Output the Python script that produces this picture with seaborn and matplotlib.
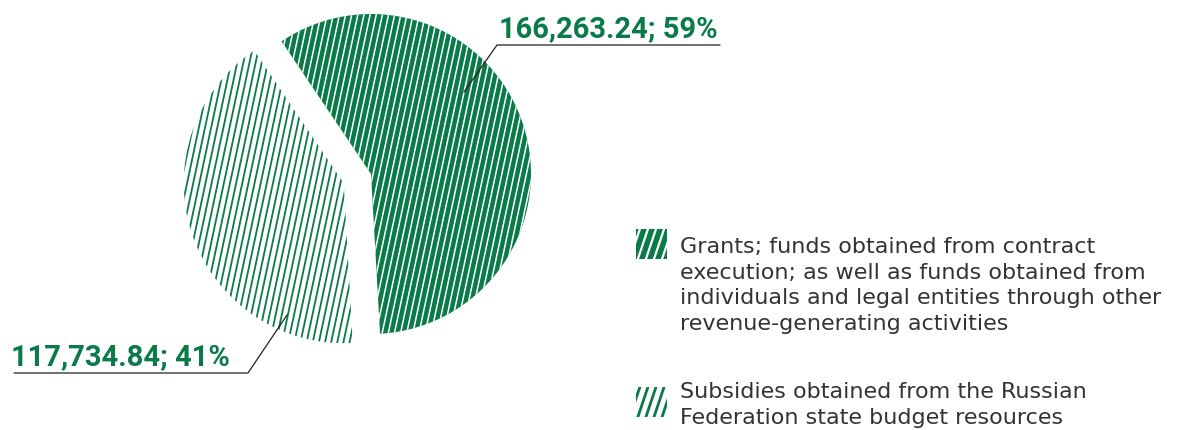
import numpy as np
import matplotlib.pyplot as plt
import seaborn as sns
from matplotlib.lines import Line2D
from matplotlib.patches import Rectangle

# data
categories = [
    "Grants; funds obtained from contract\nexecution; as well as funds obtained from\n"
    "individuals and legal entities through other\nrevenue-generating activities",
    "Subsidies obtained from the Russian\nFederation state budget resources",
]
values = [166263.24, 117734.84]
shares = [59, 41]

GREEN = "#0a7a49"
TEXT = "#333333"
W, H = 1177, 430

sns.set_theme(style="white")
plt.rcParams['font.family'] = ['DejaVu Sans']


def px(x, y):
    """top-left pixel -> figure fraction"""
    return x / W, 1 - y / H


def stripes(ax, clip, color, lw, spacing, angle=78, span=2.5):
    a = np.deg2rad(angle)
    d = np.array([np.cos(a), np.sin(a)])
    n = np.array([np.sin(a), -np.cos(a)])
    for k in np.arange(-span, span, spacing):
        p = k * n
        ln = Line2D([p[0] - span * d[0], p[0] + span * d[0]],
                    [p[1] - span * d[1], p[1] + span * d[1]],
                    color=color, lw=lw, solid_capstyle='butt')
        ax.add_line(ln)
        ln.set_clip_path(clip)


fig = plt.figure(figsize=(W / 100, H / 100), dpi=100)

# pie: centre at (371, 174) px, radius 160 px
box = 400
ax = fig.add_axes([(371 - box / 2) / W, (H - 174 - box / 2) / H, box / W, box / H])
wedges, _ = ax.pie(values, startangle=124, counterclock=False, explode=[0, 0.18],
                   colors=[GREEN, "white"], wedgeprops=dict(linewidth=0))
lim = box / 2 / 160
ax.set_xlim(-lim, lim)
ax.set_ylim(-lim, lim)
ax.set_aspect('equal')
ax.axis('off')

stripes(ax, wedges[0], "white", 1.1, 6 / 160)
stripes(ax, wedges[1], GREEN, 1.3, 6 / 160)

# value labels with leader lines
labels = [f"{v:,.2f}; {s}%" for v, s in zip(values, shares)]
lab_font = dict(color=GREEN, fontsize=21, fontweight='bold',
                family=['Roboto', 'DejaVu Sans'], va='baseline', ha='left')
fig.text(*px(499, 37), labels[0], **lab_font)
fig.add_artist(Line2D(*zip(px(464, 92), px(497, 45), px(720, 45)),
                      color="#222222", lw=0.9, transform=fig.transFigure))
fig.text(*px(11, 365), labels[1], **lab_font)
fig.add_artist(Line2D(*zip(px(14, 373), px(248, 373), px(287, 315)),
                      color="#222222", lw=0.9, transform=fig.transFigure))

# legend
legend_rows = [(229, 253), (387, 398)]
line_step = 25.7
for i, (cat, (ytop, ybase)) in enumerate(zip(categories, legend_rows)):
    x0, y0 = px(636, ytop + 30)
    lax = fig.add_axes([x0, y0, 31 / W, 30 / H])
    lax.set_xlim(0, 1)
    lax.set_ylim(0, 1)
    lax.axis('off')
    rect = Rectangle((0, 0), 1, 1, facecolor=GREEN if i == 0 else "white",
                     edgecolor='none')
    lax.add_patch(rect)
    a = np.deg2rad(72)
    for k in np.arange(-0.2, 1.3, 0.26):
        ln = Line2D([k, k + 1.2 / np.tan(a)], [0, 1.2],
                    color="white" if i == 0 else GREEN, lw=1.6 if i == 0 else 2.0)
        lax.add_line(ln)
        ln.set_clip_path(rect)
    for j, line in enumerate(cat.split("\n")):
        fig.text(*px(680, ybase + j * line_step), line, color=TEXT, fontsize=16,
                 va='baseline', ha='left')

fig.savefig("out.png", dpi=100)
